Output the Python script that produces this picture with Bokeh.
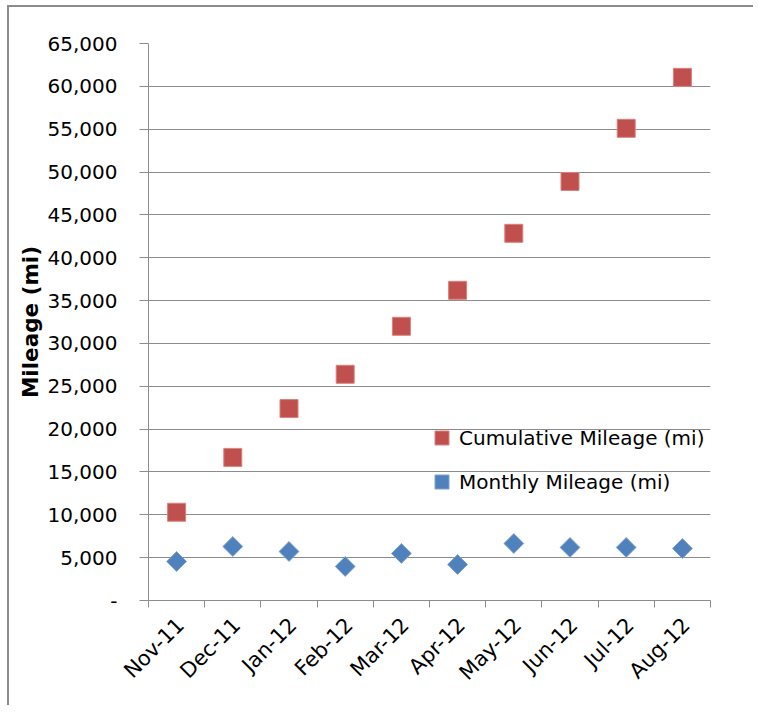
import math
from bokeh.plotting import figure
from bokeh.models import FixedTicker, NumeralTickFormatter, Range1d, Legend, LegendItem, ColumnDataSource
from bokeh.embed import file_html
from bokeh.resources import INLINE

months = ["Nov-11", "Dec-11", "Jan-12", "Feb-12", "Mar-12", "Apr-12",
          "May-12", "Jun-12", "Jul-12", "Aug-12"]
cumulative = [10300, 16700, 22400, 26400, 32000, 36200, 42850, 48900, 55100, 61050]
monthly = [4550, 6300, 5720, 3970, 5490, 4200, 6650, 6190, 6190, 6070]
y_ticks = list(range(0, 65001, 5000))

FONT = "DejaVu Sans"
RED = "#C0504D"
BLUE = "#4F81BD"
GRID = "#8C8C8C"

xs = [i + 0.5 for i in range(len(months))]
label_pos = [x + 0.07 for x in xs]
src = ColumnDataSource(dict(x=xs, cum=cumulative, mon=monthly))

p = figure(width=746, height=700, output_backend="svg", toolbar_location=None,
           x_range=Range1d(0, len(months)), y_range=Range1d(0, 65000),
           min_border_left=139, min_border_right=45, min_border_top=36, min_border_bottom=107)
p.outline_line_color = None
p.background_fill_color = "white"
p.border_fill_color = "white"

r_cum = p.scatter("x", "cum", source=src, marker="square", size=18,
                  fill_color=RED, line_color="#D9827F", line_width=1)
r_mon = p.scatter("x", "mon", source=src, marker="square", angle=math.pi / 4, size=14,
                  fill_color=BLUE, line_color="#7FA3D0", line_width=1)

# x axis
xa = p.xaxis[0]
xa.ticker = FixedTicker(ticks=label_pos, minor_ticks=list(range(len(months) + 1)))
xa.major_label_overrides = {x: m for x, m in zip(label_pos, months)}
xa.major_tick_line_color = None
xa.major_tick_out = 0
xa.major_tick_in = 0
xa.minor_tick_line_color = GRID
xa.minor_tick_out = 7
xa.minor_tick_in = 0
xa.axis_line_color = GRID
xa.major_label_orientation = math.pi / 4
xa.major_label_text_font = FONT
xa.major_label_text_font_size = "21px"
xa.major_label_text_color = "#000000"
xa.major_label_standoff = 14
p.xgrid.grid_line_color = None

# y axis
ya = p.yaxis[0]
ya.ticker = FixedTicker(ticks=y_ticks)
ya.formatter = NumeralTickFormatter(format="0,0")
ya.major_label_overrides = {0: "-"}
ya.axis_line_color = GRID
ya.major_tick_line_color = GRID
ya.major_tick_out = 9
ya.major_tick_in = 0
ya.minor_tick_line_color = None
ya.major_label_text_font = FONT
ya.major_label_text_font_size = "20px"
ya.major_label_text_color = "#000000"
ya.major_label_standoff = 22
ya.axis_label = "Mileage (mi)"
ya.axis_label_text_font = FONT
ya.axis_label_text_font_size = "21.5px"
ya.axis_label_text_font_style = "bold"
ya.axis_label_text_color = "#000000"
ya.axis_label_standoff = 2
p.ygrid.grid_line_color = GRID
p.ygrid.grid_line_width = 1

legend = Legend(items=[LegendItem(label="Cumulative Mileage (mi)", renderers=[r_cum]),
                       LegendItem(label="Monthly Mileage (mi)", renderers=[r_mon])],
                location=(276, 101))
legend.background_fill_alpha = 0
legend.border_line_color = None
legend.label_text_font = FONT
legend.label_text_font_size = "20px"
legend.label_text_color = "#000000"
legend.glyph_width = 35
legend.glyph_height = 35
legend.spacing = 9
legend.label_standoff = 0
p.add_layout(legend, "center")

p.styles = {"margin-left": "7px", "margin-top": "5px",
            "border-left": "2px solid #8C8C8C", "border-top": "2px solid #8C8C8C"}

open("out.html", "w").write(file_html(p, INLINE))
